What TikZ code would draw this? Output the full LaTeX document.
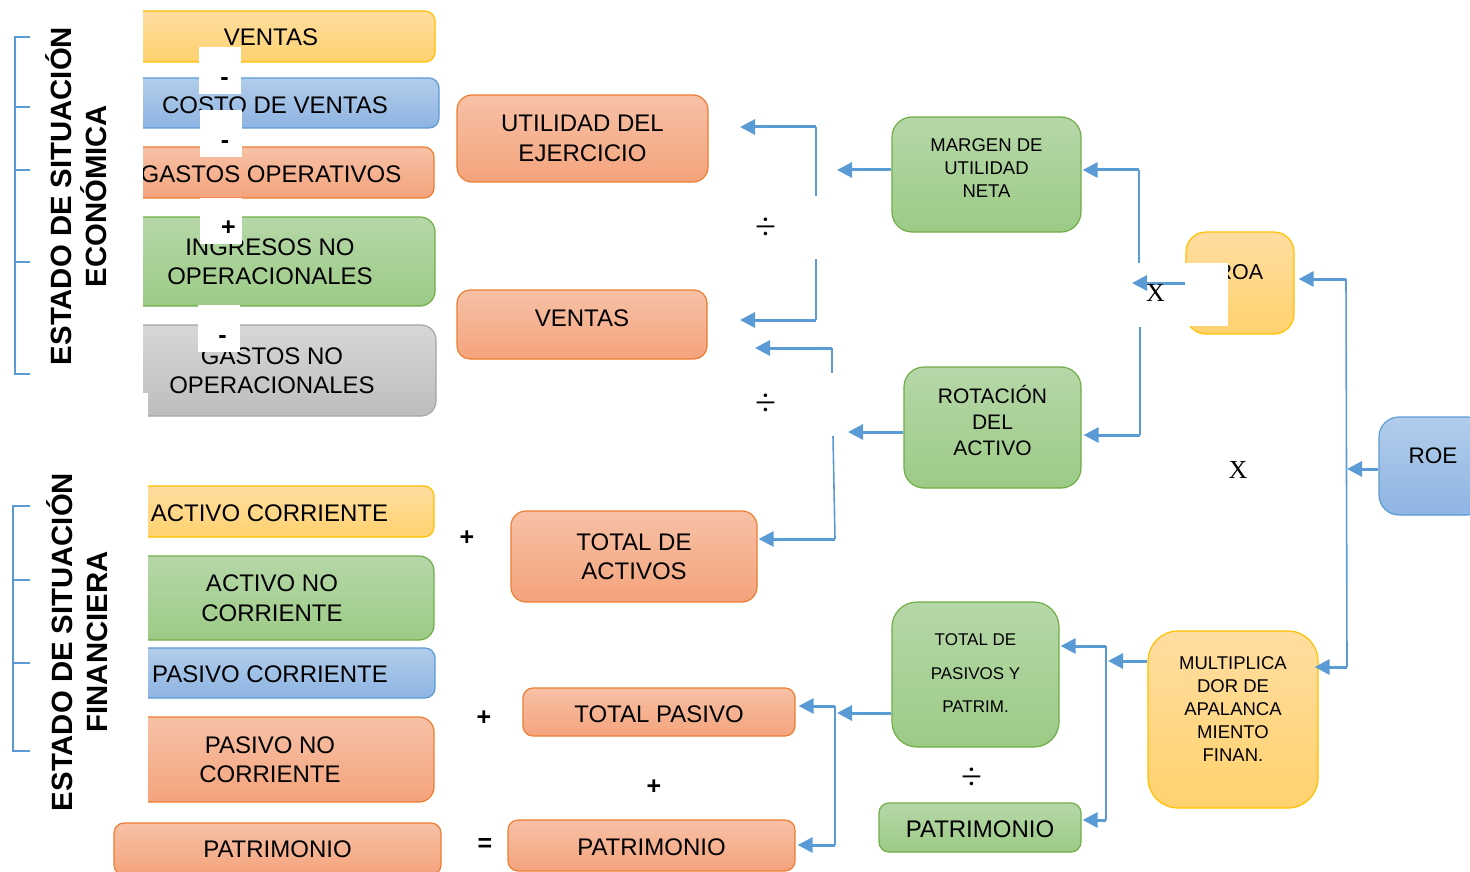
\documentclass[tikz,border=0pt]{standalone}
\usepackage{fontspec}
\setmainfont{Liberation Sans}
\newfontfamily\timesf{Liberation Serif}
\usetikzlibrary{arrows.meta,calc}
\definecolor{lnblue}{HTML}{5B9BD5}
\definecolor{yTop}{HTML}{FFDDA0}\definecolor{yBot}{HTML}{FFD26E}\definecolor{yBrd}{HTML}{FFC000}
\definecolor{bTop}{HTML}{B2CDEB}\definecolor{bBot}{HTML}{8EB4E2}\definecolor{bBrd}{HTML}{5B9BD5}
\definecolor{sTop}{HTML}{F7C1A6}\definecolor{sBot}{HTML}{F4A37C}\definecolor{sBrd}{HTML}{ED7D31}
\definecolor{gTop}{HTML}{B6D7A8}\definecolor{gBot}{HTML}{9CCB86}\definecolor{gBrd}{HTML}{70AD47}
\definecolor{kTop}{HTML}{D7D7D7}\definecolor{kBot}{HTML}{BDBDBD}\definecolor{kBrd}{HTML}{A5A5A5}
\newcommand\myLift[2]{\raisebox{#1}[\height][\depth]{\begin{tabular}{@{}c@{}}#2\end{tabular}}}
\begin{document}
\begin{tikzpicture}[x=1pt,y=-1pt,
  box/.style={rectangle, rounded corners=10pt, line width=1.2pt, inner sep=0pt, align=center, text=black},
  yel/.style={box, draw=yBrd, top color=yTop, bottom color=yBot},
  blu/.style={box, draw=bBrd, top color=bTop, bottom color=bBot},
  sal/.style={box, draw=sBrd, top color=sTop, bottom color=sBot},
  grn/.style={box, draw=gBrd, top color=gTop, bottom color=gBot},
  gry/.style={box, draw=kBrd, top color=kTop, bottom color=kBot},
  wh/.style={rectangle, fill=white, draw=none, inner sep=0pt},
  big/.style={font=\fontsize{24}{29.5}\selectfont},
  opb/.style={font=\bfseries\fontsize{25}{25}\selectfont, inner sep=0pt},
  ops/.style={font=\timesf\fontsize{38}{38}\selectfont, inner sep=0pt},
  opx/.style={font=\timesf\fontsize{26}{26}\selectfont, inner sep=0pt},
  arr/.style={draw=lnblue, line width=3pt, -{Triangle[length=15pt,width=15pt]}},
  vln/.style={draw=lnblue, line width=1.6pt},
  brk/.style={draw=lnblue, line width=1.5pt},
  title/.style={rotate=90, align=center, font=\bfseries\fontsize{29.3}{35}\selectfont, inner sep=0pt}
]
\useasboundingbox (0,0) rectangle (1470,872);
% left column boxes
\node[yel,big,minimum width=328pt,minimum height=51pt] (lven) at (271,36.5) {\myLift{-3pt}{VENTAS}};
\node[blu,big,minimum width=328pt,minimum height=50pt] (lcos) at (275,103) {\myLift{-5pt}{COSTO DE VENTAS}};
\node[sal,big,minimum width=326pt,minimum height=51pt] (lgop) at (271,172.5) {\myLift{-4pt}{GASTOS OPERATIVOS}};
\node[grn,big,minimum width=330pt,minimum height=89pt,rounded corners=15pt] (ling) at (270,261.5) {INGRESOS NO\\OPERACIONALES};
\node[gry,big,minimum width=328pt,minimum height=91pt,rounded corners=15pt] (lgno) at (272,370.5) {GASTOS NO\\OPERACIONALES};
\node[yel,big,minimum width=329pt,minimum height=51pt] (lac) at (269.5,511.5) {\myLift{-4pt}{ACTIVO CORRIENTE}};
\node[grn,big,minimum width=324pt,minimum height=84pt,rounded corners=15pt] (lanc) at (272,598) {ACTIVO NO\\CORRIENTE};
\node[blu,big,minimum width=330pt,minimum height=50pt] (lpc) at (270,673) {\myLift{-4pt}{PASIVO CORRIENTE}};
\node[sal,big,minimum width=328pt,minimum height=85pt,rounded corners=15pt] (lpnc) at (270,759.5) {PASIVO NO\\CORRIENTE};
\node[sal,big,minimum width=327pt,minimum height=52pt] (lpat) at (277.5,849) {PATRIMONIO};
% white covers of the left edges
\fill[white] (100,-2) rectangle (143,393);
\fill[white] (100,393) rectangle (148,815);
% operator boxes
\node[wh,minimum width=42pt,minimum height=47pt] (w1) at (220,70.5) {};
\node[opb] (m1) at (224.5,82) {-};
\node[wh,minimum width=42pt,minimum height=47pt] (w2) at (221,133.5) {};
\node[opb] (m2) at (225,145) {-};
\node[wh,minimum width=42pt,minimum height=46pt] (w3) at (221,221) {};
\node[opb] (m3) at (228.5,228.5) {+};
\node[wh,minimum width=42pt,minimum height=47pt] (w4) at (219,328.5) {};
\node[opb] (m4) at (222.5,340) {-};
% titles and brackets
\node[title] (t1) at (76,196) {ESTADO DE SITUACIÓN\\ECONÓMICA};
\node[title] (t2) at (77,642) {ESTADO DE SITUACIÓN\\FINANCIERA};
\draw[brk] (30,37) -- (15,37) -- (15,374) -- (30,374);
\draw[brk] (15,107) -- (30,107);
\draw[brk] (15,170) -- (30,170);
\draw[brk] (15,262) -- (30,262);
\draw[brk] (30,506) -- (13,506) -- (13,751) -- (30,751);
\draw[brk] (13,580) -- (30,580);
\draw[brk] (13,663) -- (30,663);
% middle boxes
\node[sal,big,minimum width=251pt,minimum height=87pt,rounded corners=15pt] (util) at (582.5,138.5) {UTILIDAD DEL\\EJERCICIO};
\node[sal,big,minimum width=250pt,minimum height=69pt,rounded corners=13pt] (mven) at (582,324.5) {\myLift{4pt}{VENTAS}};
\node[sal,big,minimum width=246pt,minimum height=91pt,rounded corners=15pt] (tact) at (634,556.5) {TOTAL DE\\ACTIVOS};
\node[sal,big,minimum width=272pt,minimum height=48pt] (tpas) at (659,712) {\myLift{-5pt}{TOTAL PASIVO}};
\node[sal,big,minimum width=287pt,minimum height=51pt] (mpat) at (651.5,845.5) {\myLift{-4pt}{PATRIMONIO}};
% right boxes
\node[grn,minimum width=189pt,minimum height=115pt,rounded corners=20pt,font=\fontsize{18.5}{23}\selectfont] (marg) at (986.5,174.5) {\myLift{4.5pt}{MARGEN DE\\UTILIDAD\\NETA}};
\node[grn,minimum width=177pt,minimum height=121pt,rounded corners=20pt,font=\fontsize{21}{26}\selectfont] (rot) at (992.5,427.5) {\myLift{3.5pt}{ROTACIÓN\\DEL\\ACTIVO}};
\node[yel,minimum width=108pt,minimum height=102pt,rounded corners=20pt,font=\fontsize{21.5}{26}\selectfont] (roa) at (1240,283) {\myLift{9pt}{ROA}};
\node[blu,minimum width=108pt,minimum height=98pt,rounded corners=20pt,font=\fontsize{22.5}{27}\selectfont] (roe) at (1433,466) {\myLift{8pt}{ROE}};
\node[grn,minimum width=167pt,minimum height=145pt,rounded corners=25pt,font=\fontsize{17}{33.5}\selectfont] (tdpp) at (975.5,674.5) {\myLift{2pt}{TOTAL DE\\PASIVOS Y\\PATRIM.}};
\node[grn,big,minimum width=202pt,minimum height=49pt] (gpat) at (980,827.5) {\myLift{-4pt}{PATRIMONIO}};
\node[yel,minimum width=170pt,minimum height=177pt,rounded corners=30pt,font=\fontsize{18.5}{23}\selectfont] (mult) at (1233,719.5) {\myLift{8.5pt}{MULTIPLICA\\DOR DE\\APALANCA\\MIENTO\\FINAN.}};
\fill[white] (1180,263) rectangle (1228,326);
% connectors: fork 1
\coordinate (f1t) at (816,127); \coordinate (f1g) at (816,196);
\coordinate (f1h) at (816,259); \coordinate (f1b) at (816,320);
\coordinate (a1) at (740,127); \coordinate (a2) at (740,320); \coordinate (a3) at (837,170);
\draw[vln] (f1t) -- (f1g); \draw[vln] (f1h) -- (f1b);
\draw[arr] (f1t) -- (a1); \draw[arr] (f1b) -- (a2);
\draw[arr] ([yshift=4.5pt]marg.west) -- (a3);
% fork 2
\coordinate (f2t) at (832,348); \coordinate (f2g) at (832,373);
\coordinate (f2h) at (833,436); \coordinate (f2b) at (835,539);
\coordinate (b1) at (755,348); \coordinate (b3) at (848,432);
\draw[vln] (f2t) -- (f2g); \draw[vln] (f2h) -- (f2b);
\draw[arr] (f2t) -- (b1); \draw[arr] (f2b) -- ([xshift=1pt,yshift=17.5pt]tact.east);
\draw[arr] ([yshift=-4.5pt]rot.west) -- (b3);
% fork 3
\coordinate (f3t) at (835,706); \coordinate (f3b) at (835,845); \coordinate (c3) at (837,713);
\draw[vln] (f3t) -- (f3b);
\draw[arr] (f3t) -- ([xshift=3pt,yshift=6pt]tpas.east);
\draw[arr] (f3b) -- ([xshift=2pt,yshift=0.5pt]mpat.east);
\draw[arr] ([yshift=-38.5pt]tdpp.west) -- (c3);
% fork G
\coordinate (g1) at (1139,170); \coordinate (g2) at (1139,263);
\coordinate (g3) at (1140,327); \coordinate (g4) at (1140,435); \coordinate (gx) at (1132,283);
\draw[vln] (g1) -- (g2); \draw[vln] (g3) -- (g4);
\draw[arr] (g1) -- ([xshift=1pt,yshift=4.5pt]marg.east);
\draw[arr] (g4) -- ([xshift=2pt,yshift=-7.5pt]rot.east);
\draw[arr] (roa.west) -- (gx);
% fork J
\coordinate (j1) at (1346,279); \coordinate (j2) at (1347,667); \coordinate (j3) at (1347,469);
\draw[vln] (j1) -- (j2);
\draw[arr] (j1) -- ([xshift=4pt,yshift=4pt]roa.east);
\draw[arr] (j2) -- ([xshift=-4pt,yshift=52.5pt]mult.east);
\draw[arr] ([yshift=-3pt]roe.west) -- (j3);
% fork L
\coordinate (l1) at (1106,646); \coordinate (l2) at (1106,820); \coordinate (l3) at (1108,661);
\draw[vln] (l1) -- (l2);
\draw[arr] ([yshift=58.5pt]mult.west) -- (l3);
\draw[arr] (l1) -- ([xshift=1pt,yshift=28.5pt]tdpp.east);
\draw[arr] (l2) -- ([xshift=1pt,yshift=7.5pt]gpat.east);
% operators
\node[opb] (p1) at (467,538) {+};
\node[opb] (p2) at (484,718) {+};
\node[opb] (p3) at (654,787) {+};
\node[opb] (eq) at (485,845) {=};
\node[ops] (d1) at (766,229) {÷};
\node[ops] (d2) at (766,405) {÷};
\node[ops] (d3) at (972,779) {÷};
\node[opx] (x1) at (1155.5,292.5) {X};
\node[opx] (x2) at (1238,469.5) {X};
\end{tikzpicture}
\end{document}
